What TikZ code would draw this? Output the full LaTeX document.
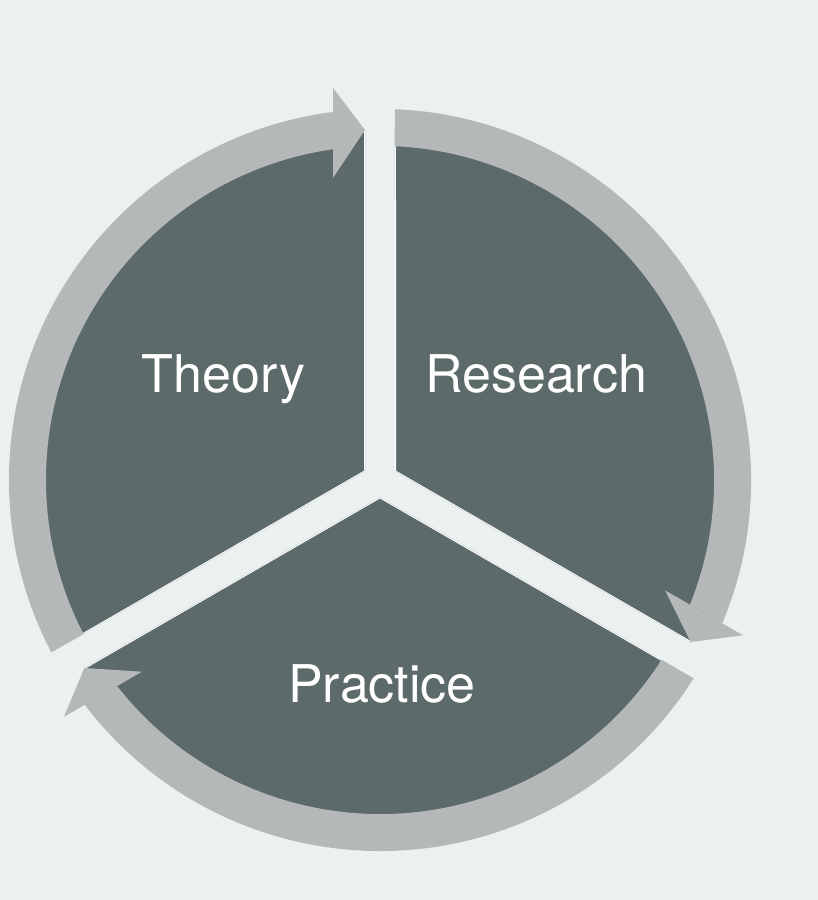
\documentclass[tikz,border=0pt]{standalone}
\usepackage{fontspec}
\setmainfont{TeX Gyre Heros}
\definecolor{bg}{HTML}{EBF0F1}
\definecolor{darkseg}{HTML}{5C6A6A}
\definecolor{ringc}{HTML}{B4B8B9}
\tikzset{
  lbl/.style={anchor=base,text=white,inner sep=0pt,font=\fontsize{52}{60}\selectfont},
  seam/.style={white,line width=2pt}
}
\begin{document}
\begin{tikzpicture}[x=1pt,y=1pt]
\fill[bg] (0,0) rectangle (818,900);
\useasboundingbox (0,0) rectangle (818,900);
\coordinate (C) at (380,420);
\foreach \rot in {0,-120,-240}{
  \begin{scope}[shift={(380,420)},rotate=\rot]
    \begin{scope}
      \clip (-15,8.66) -- (-15,600) -- (-600,600) -- (-600,-329.1) -- cycle;
      \fill[darkseg] (0,0) circle (350);
      \begin{scope}
        \clip (0,0) circle (350);
        \draw[seam] (-15,600) -- (-15,8.66) -- (-600,-329.1);
      \end{scope}
      \clip (-47,-700) rectangle (-700,700);
      \fill[ringc,even odd rule] (0,0) circle (371) (0,0) circle (334);
    \end{scope}
    \fill[ringc] (-47,392) -- (-15,350) -- (-47,302) -- cycle;
  \end{scope}
}
\node[lbl] (theory) at (223.5,507) {Theory};
\node[lbl] (research) at (536,507) {Research};
\node[lbl] (practice) at (382,197) {Practice};
\end{tikzpicture}
\end{document}
